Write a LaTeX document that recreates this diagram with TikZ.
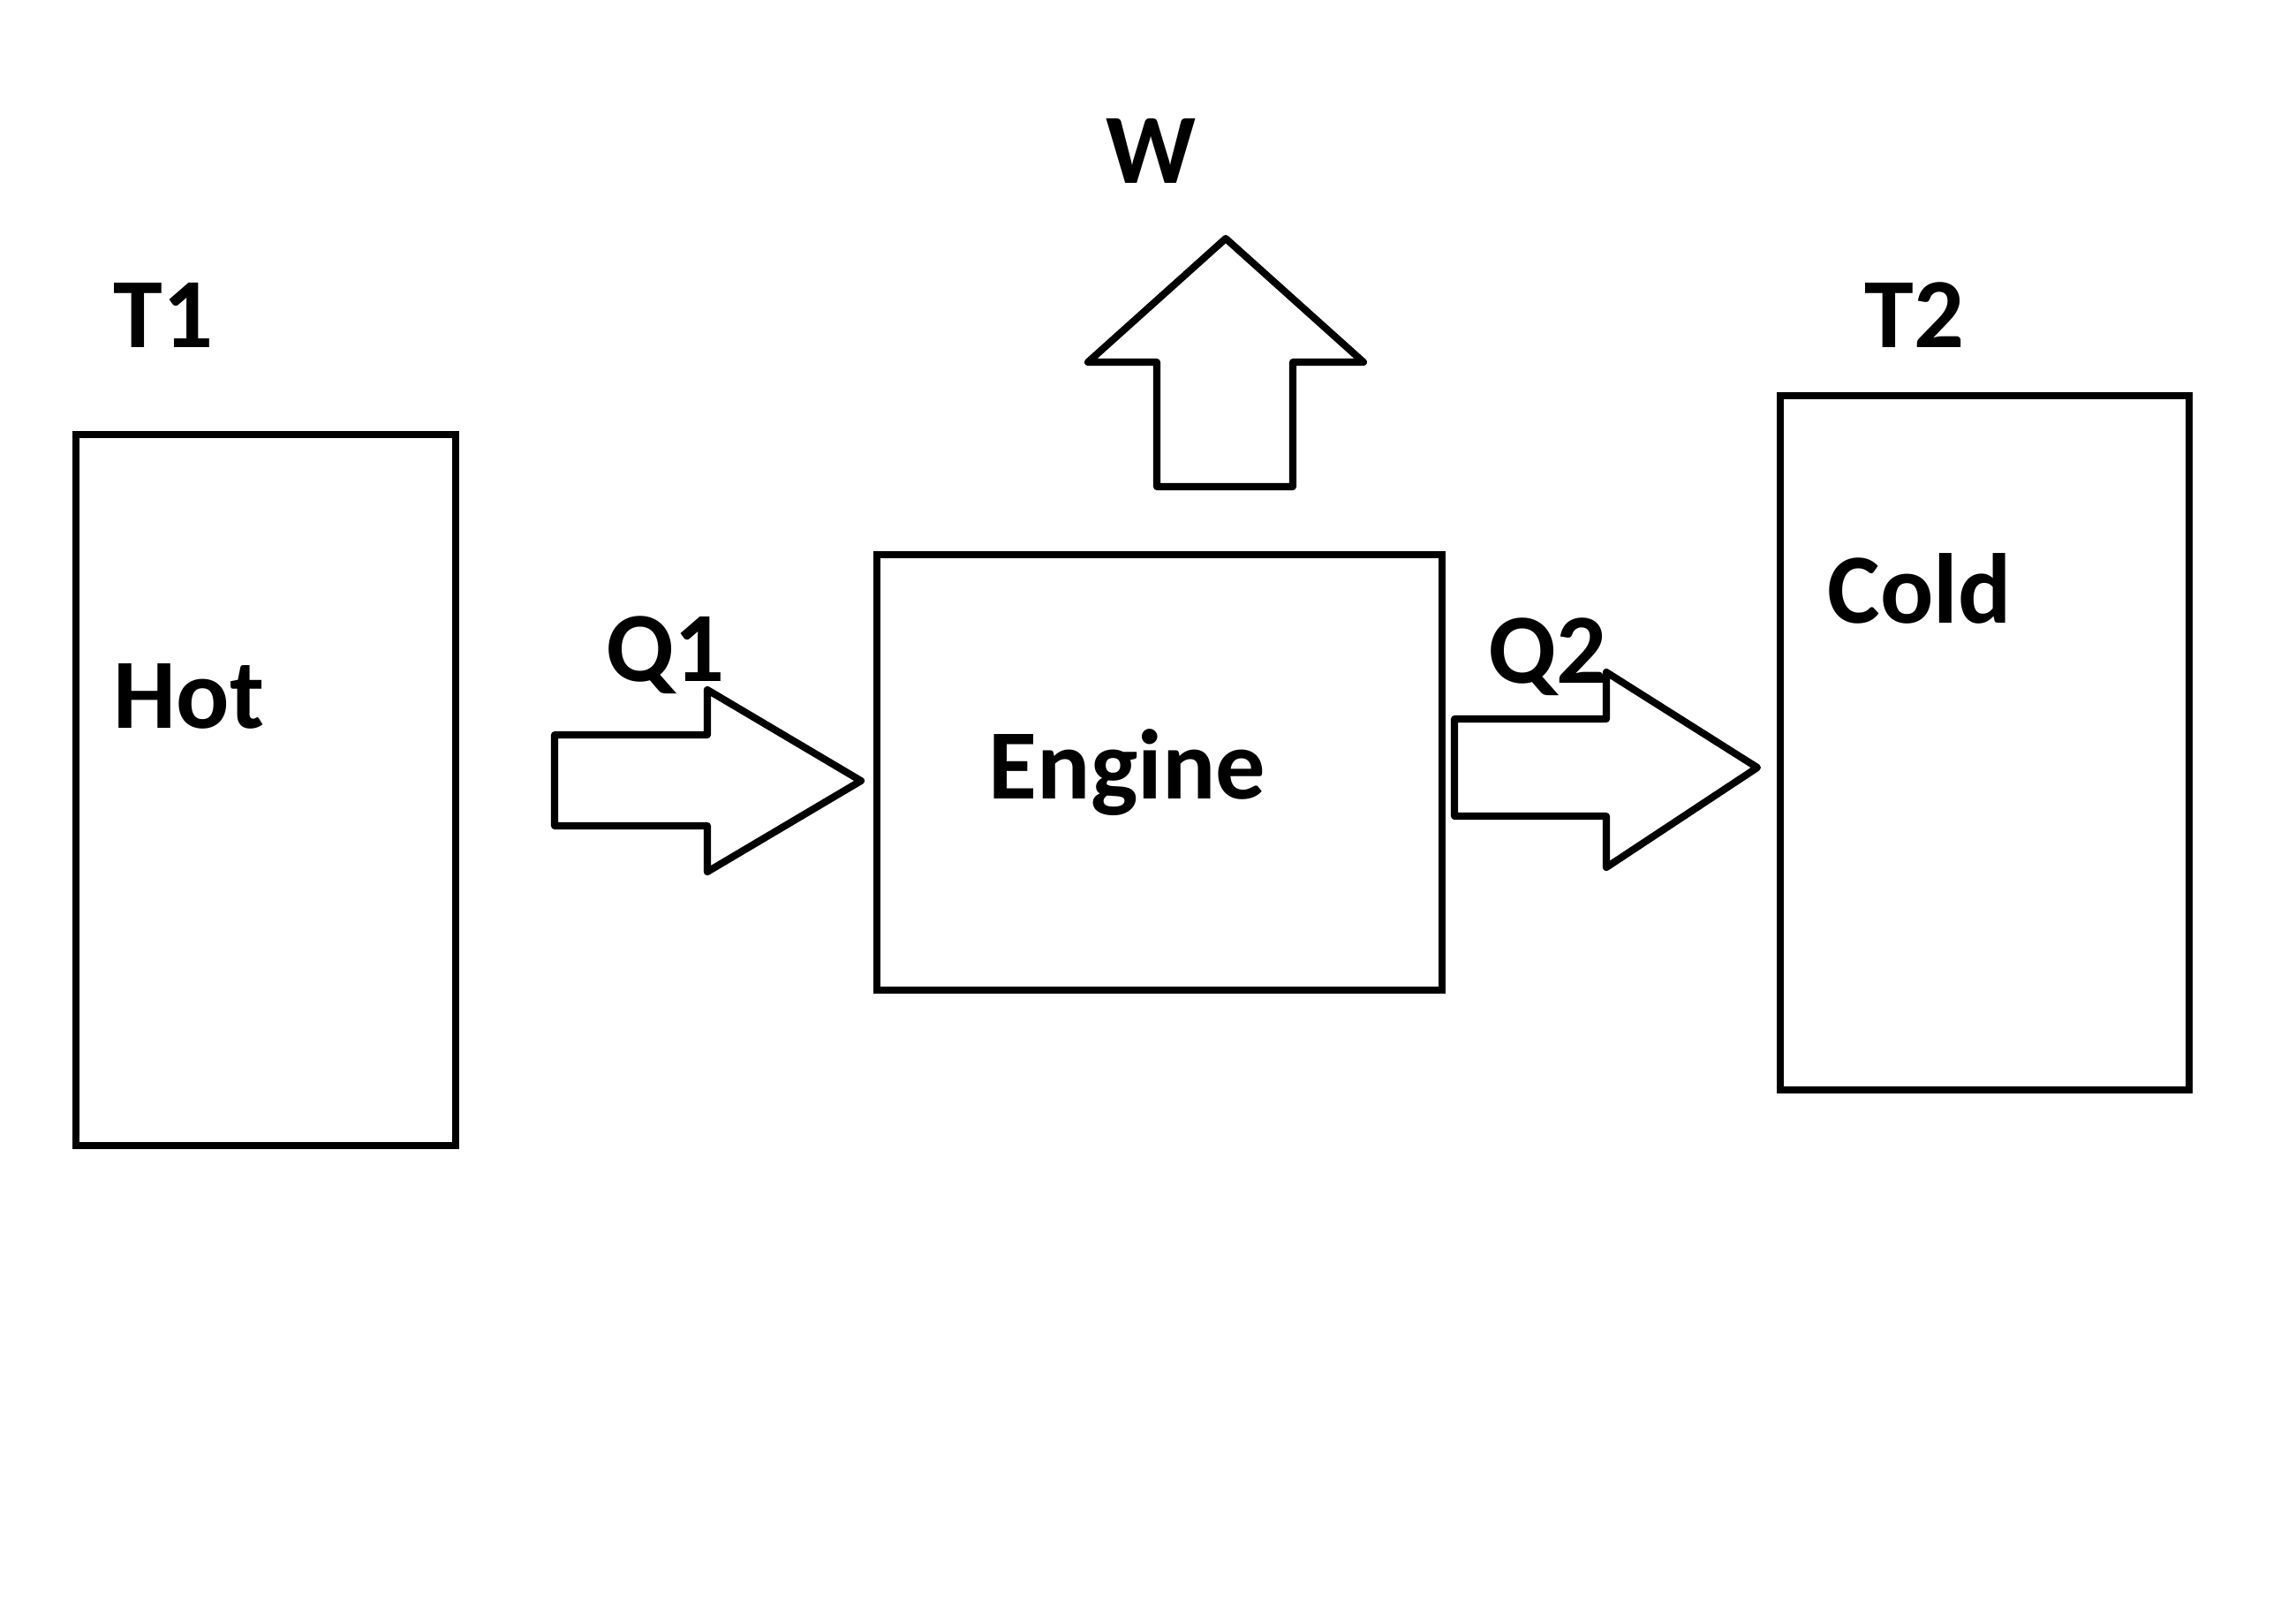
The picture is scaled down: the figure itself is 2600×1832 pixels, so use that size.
\documentclass[tikz,border=0pt]{standalone}
\usepackage{fontspec}
\setmainfont{Carlito}
\begin{document}
\begin{tikzpicture}[x=0.01cm,y=-0.01cm,
  boxline/.style={draw=black,line width=2.3pt,line join=miter,inner sep=0pt,outer sep=0pt},
  blockarrow/.style={draw=black,line width=2.3pt,line join=round,fill=white},
  lbl/.style={inner sep=0pt,anchor=base west,font=\fontsize{32}{38}\selectfont\bfseries}]
\useasboundingbox (0,0) rectangle (2600,1832);
\fill[white] (0,0) rectangle (2600,1832);
% reservoirs and engine
\node[boxline,minimum width=4.30cm,minimum height=8.05cm] (hot) at (301,894.5) {};
\node[boxline,minimum width=6.40cm,minimum height=4.93cm] (engine) at (1313,874.5) {};
\node[boxline,minimum width=4.63cm,minimum height=7.86cm] (cold) at (2247.5,841) {};
% labels
\node[lbl] (t1) at (128,393) {T1};
\node[lbl] (hott) at (128,824) {Hot};
\node[lbl] (q1) at (686,771) {Q1};
\node[lbl] (enginet) at (1119,904) {Engine};
\node[lbl] (q2) at (1685,773) {Q2};
\node[lbl] (coldt) at (2069,705) {Cold};
\node[lbl] (t2) at (2111,393) {T2};
\node[lbl] (w) at (1252,207) {W};
% block arrows
\draw[blockarrow] (628,832) -- (801,832) -- (801,781) -- (975,884) -- (801,987) -- (801,935) -- (628,935) -- cycle;
\draw[blockarrow] (1647,814) -- (1819,814) -- (1819,761) -- (1990,869) -- (1819,982) -- (1819,924) -- (1647,924) -- cycle;
\draw[blockarrow] (1310,551) -- (1310,410) -- (1232,410) -- (1388,270) -- (1544,410) -- (1464,410) -- (1464,551) -- cycle;
\end{tikzpicture}
\end{document}
